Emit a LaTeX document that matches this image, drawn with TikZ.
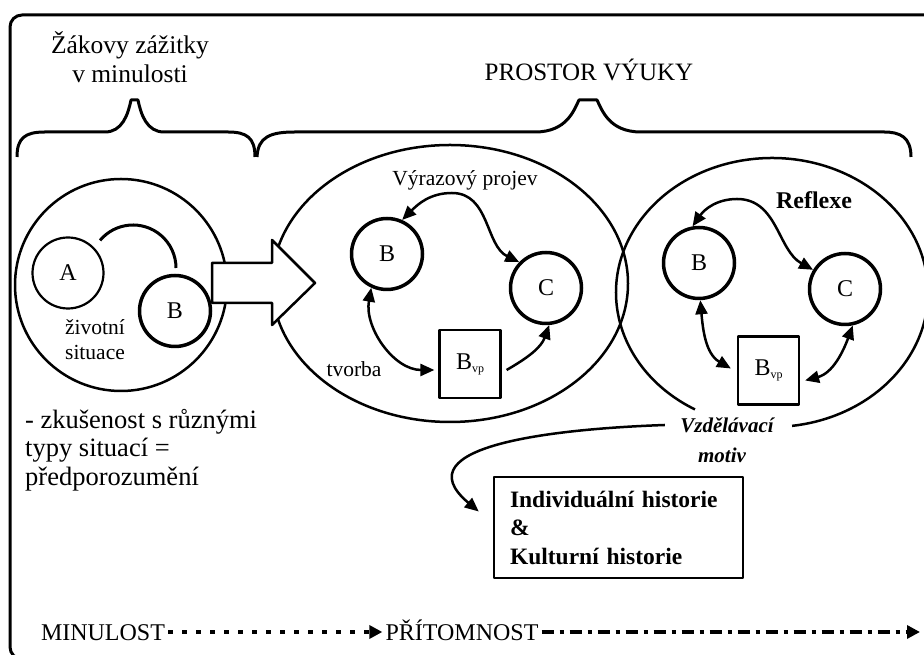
\documentclass[tikz,border=0pt]{standalone}
\usepackage{fontspec}
\setmainfont{Liberation Serif}
\usetikzlibrary{arrows.meta,shapes.geometric}
\newcommand{\vp}{B\raisebox{-3pt}{\fontsize{12}{12}\selectfont vp}}

\begin{document}
\begin{tikzpicture}[x=1pt, y=1pt, line join=round,
  >={Triangle[length=14pt,width=12pt]},
  frame/.style={line width=3pt, rounded corners=12pt},
  brace/.style={line width=3pt},
  ring/.style={draw, circle, line width=3.5pt, minimum size=71pt, inner sep=0pt, font=\fontsize{24}{28}\selectfont},
  thinring/.style={ring, line width=2.2pt},
  vpbox/.style={draw, line width=2.2pt, minimum width=61pt, minimum height=68pt, inner sep=0pt, font=\fontsize{24}{28}\selectfont},
  link/.style={line width=2.5pt},
  txt/.style={font=\fontsize{21.5}{25}\selectfont, align=center, inner sep=0pt},
  era/.style={font=\fontsize{24}{28}\selectfont, text height=17pt, text depth=0pt, inner sep=3pt}]

\useasboundingbox (0,0) rectangle (924,655);
\draw[frame] (10,-4) rectangle (960,640);

% headings
\node[font=\fontsize{25.5}{29}\selectfont, align=center] (past) at (130,598) {Žákovy zážitky\\v minulosti};
\node[font=\fontsize{25}{28}\selectfont, anchor=base] (space) at (589,574) {PROSTOR VÝUKY};

% braces
\draw[brace] (17,498) .. controls (17,517) and (25,523) .. (45,523) -- (105,523)
  .. controls (122,523) and (128,540) .. (131,555) -- (138,555)
  .. controls (141,540) and (147,523) .. (164,523) -- (228,523)
  .. controls (247,523) and (255,517) .. (255,498);
\draw[brace] (257,498) .. controls (258,518) and (270,523) .. (295,523) -- (535,523)
  .. controls (567,523) and (574,545) .. (579,555) -- (597,555)
  .. controls (602,545) and (609,523) .. (641,523) -- (884,523)
  .. controls (900,523) and (911,518) .. (911,498);

% life situation
\node[draw, circle, line width=2.5pt, minimum size=212pt] (life) at (121,370) {};
\node[thinring] (A) at (68,382) {A};
\node[ring] (B0) at (175,344) {B};
\draw[line width=3pt] (133,387) ++(140:43) arc[start angle=140, end angle=0, radius=43];
\node[txt] (lifetxt) at (95,315) {životní\\situace};

% teaching space
\node[draw, ellipse, line width=2.5pt, minimum width=356pt, minimum height=277pt] (teach) at (450,371.5) {};
\draw[line width=2.5pt] (772,362.5) ++(-82.6:156 and 134.5) arc[start angle=-82.6, end angle=240.4, x radius=156, y radius=134.5];
\draw[line width=2.5pt, fill=white] (212,392) -- (272,392) -- (272,415) -- (315,372) -- (272,330) -- (272,352) -- (212,352) -- cycle;

% expression
\node[ring] (B1) at (387,401) {B};
\node[ring] (C1) at (546,367) {C};
\node[vpbox] (V1) at (470,291) {\vp};
\node[txt] (expr) at (465,475) {Výrazový projev};
\node[txt] (make) at (354,286) {tvorba};
\draw[link, <->] (B1.66) to[out=45,in=180] (452,462) to[out=0,in=154] (C1.136);
\draw[link, <->] (B1.245) to[out=-100,in=180] ([xshift=-4pt,yshift=-6pt]V1.west);
\draw[link, ->] ([xshift=5pt,yshift=-6pt]V1.east) to[out=30,in=-110] (C1.-85);

% reflection
\node[txt, font=\bfseries\fontsize{24}{28}\selectfont] (refl) at (814,455) {Reflexe};
\node[ring] (B2) at (699,392) {B};
\node[ring] (C2) at (845,366) {C};
\node[vpbox] (V2) at (768.5,284.5) {\vp};
\draw[link, <->] (B2.100) to[out=55,in=180] (737,456) to[out=0,in=151] (C2.149);
\draw[link, <->] (B2.-88) to[out=-85,in=150] ([xshift=-6pt,yshift=2pt]V2.west);
\draw[link, <->] ([xshift=5pt,yshift=-10pt]V2.east) to[out=15,in=-110] (C2.-78);

% motive
\node[font=\bfseries\itshape\fontsize{21}{24}\selectfont] (vzd) at (727,230) {Vzdělávací};
\node[font=\bfseries\itshape\fontsize{21}{24}\selectfont] (motiv) at (722,200) {motiv};
\node[draw, line width=2.5pt, minimum width=249pt, minimum height=101pt, text width=217pt, align=left,
  font=\bfseries\fontsize{23.5}{28.5}\selectfont] (hist) at (618.5,127.5) {Individuální historie\\\&\\Kulturní historie};
\draw[link, ->] ([xshift=-12pt]vzd.west) to[out=182,in=140,looseness=1.3] ([xshift=-14pt,yshift=16pt]hist.west);

\node[anchor=north west, align=left, inner sep=0pt, font=\fontsize{26.5}{28.5}\selectfont] (prior) at (25,246)
  {- zkušenost s různými\\typy situací =\\předporozumění};

% time line
\node[era] (then) at (103,23) {MINULOST};
\node[era] (now) at (462,23) {PŘÍTOMNOST};
\coordinate (future) at (920,23);
\draw[line width=4.5pt, dash pattern=on 5pt off 9pt, -{Triangle[length=13pt,width=13pt]}] (then) -- (now);
\draw[line width=4.5pt, dash pattern=on 12pt off 6pt on 4pt off 6pt, -{Triangle[length=13pt,width=13pt]}] (now) -- (future);
\end{tikzpicture}
\end{document}
